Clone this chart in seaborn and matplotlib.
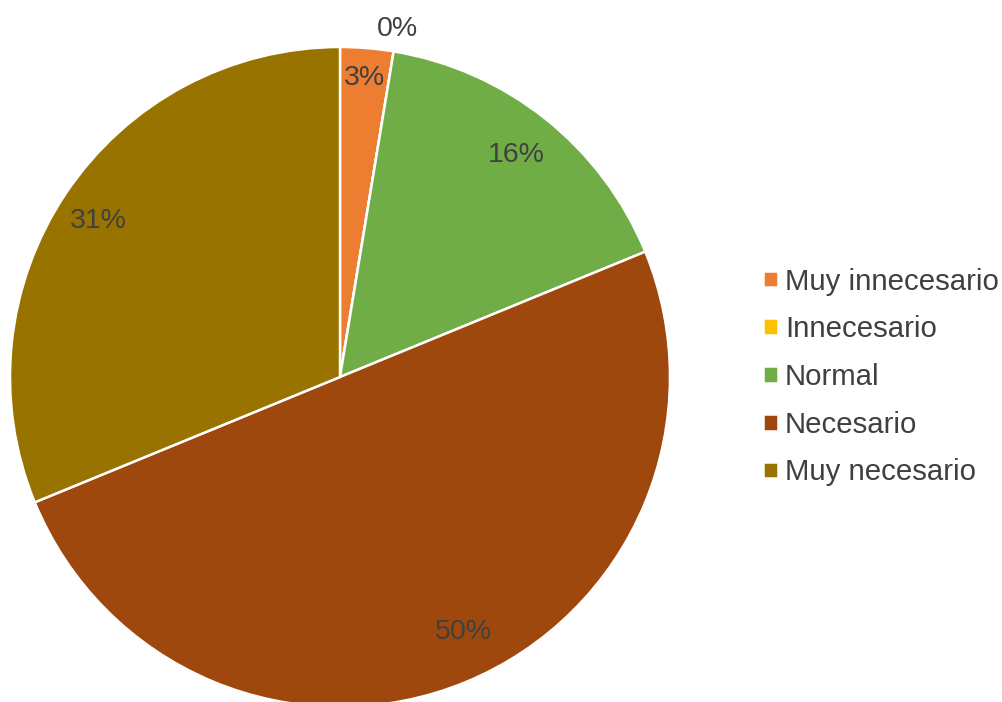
import numpy as np
import matplotlib
matplotlib.use("Agg")
import matplotlib.pyplot as plt
import seaborn as sns

# Survey answers (percent of respondents)
categories = ["Muy innecesario", "Innecesario", "Normal", "Necesario", "Muy necesario"]
percentages = [2.6, 0.0, 16.2, 50.0, 31.2]
colors = ["#ED7D31", "#FFC000", "#70AD47", "#9E480E", "#997300"]

sns.set_theme(style="white")
plt.rcParams["font.family"] = ["Liberation Sans", "DejaVu Sans"]
TEXT = "#404040"

fig = plt.figure(figsize=(10.02, 7.02), dpi=100)
# square axes holding the pie (radius 330 px, centre at 340,377 from top-left)
W, H = 1002, 702
cx, cy, r = 340, 377, 330
ax = fig.add_axes([(cx - r) / W, (H - cy - r) / H, 2 * r / W, 2 * r / H])

wedges, texts, autotexts = ax.pie(
    percentages, colors=colors, startangle=90, counterclock=False,
    autopct="%.0f%%", pctdistance=0.86, radius=1.0,
    wedgeprops=dict(edgecolor="white", linewidth=1.8),
    textprops=dict(color=TEXT, fontsize=20.5),
)
ax.set_xlim(-1, 1)
ax.set_ylim(-1, 1)

# label placement per slice: (distance from centre, angular offset in degrees)
label_place = {0: (0.91, 0.0), 1: (1.07, 0.0), 3: (0.86, 3.5), 4: (0.87, 1.0)}
for i, (d, off) in label_place.items():
    w = wedges[i]
    mid = np.deg2rad((w.theta1 + w.theta2) / 2 + off)
    autotexts[i].set_position((d * np.cos(mid), d * np.sin(mid)))

leg = fig.legend(
    wedges, categories, loc="center left",
    bbox_to_anchor=(763 / W, 1 - 377 / H), frameon=False,
    fontsize=21.2, handlelength=0.5, handleheight=0.5,
    handletextpad=0.25, labelspacing=0.67, borderpad=0, borderaxespad=0,
)
for t in leg.get_texts():
    t.set_color(TEXT)

fig.savefig("out.png", dpi=100)
